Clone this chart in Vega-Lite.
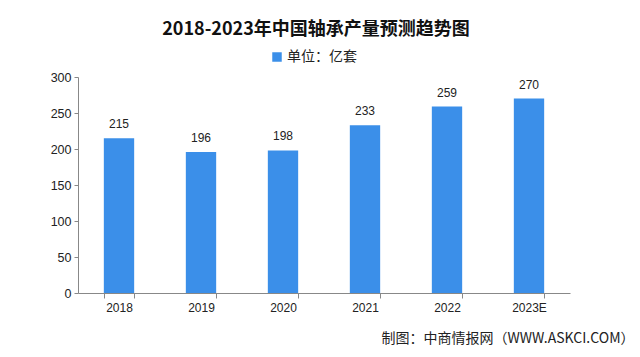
{
  "$schema": "https://vega.github.io/schema/vega-lite/v6.json",
  "autosize": {"type": "none"},
  "width": 492,
  "height": 216,
  "padding": {"left": 78, "top": 77, "right": 70, "bottom": 64},
  "background": "white",
  "title": {
    "text": "2018-2023年中国轴承产量预测趋势图",
    "font": "Noto Sans CJK SC",
    "fontSize": 18,
    "fontWeight": "bold",
    "color": "#111111",
    "anchor": "middle",
    "dx": -8,
    "offset": 11
  },
  "data": {
    "values": [
      {"year": "2018", "value": 215, "unit": "单位：亿套"},
      {"year": "2019", "value": 196, "unit": "单位：亿套"},
      {"year": "2020", "value": 198, "unit": "单位：亿套"},
      {"year": "2021", "value": 233, "unit": "单位：亿套"},
      {"year": "2022", "value": 259, "unit": "单位：亿套"},
      {"year": "2023E", "value": 270, "unit": "单位：亿套"}
    ]
  },
  "encoding": {
    "x": {
      "field": "year",
      "type": "nominal",
      "sort": null,
      "scale": {"paddingInner": 0.63, "paddingOuter": 0.315},
      "axis": {
        "title": "制图：中商情报网（WWW.ASKCI.COM）",
        "titleFont": "Noto Sans CJK SC",
        "titleFontSize": 14,
        "titleFontWeight": "normal",
        "titleColor": "#222222",
        "titleAnchor": "end",
        "titleAlign": "right",
        "titleBaseline": "middle",
        "titleX": 556,
        "titleY": 45,
        "labelAngle": 0,
        "labelFont": "Liberation Sans",
        "labelFontSize": 12,
        "labelColor": "#222222",
        "labelPadding": 4,
        "tickBand": "extent",
        "tickSize": 5,
        "tickColor": "#888888",
        "domainColor": "#888888"
      }
    },
    "y": {
      "field": "value",
      "type": "quantitative",
      "scale": {"domain": [0, 300]},
      "axis": {
        "title": null,
        "values": [0, 50, 100, 150, 200, 250, 300],
        "grid": false,
        "labelFont": "Liberation Sans",
        "labelFontSize": 12.5,
        "labelColor": "#222222",
        "labelPadding": 3,
        "tickSize": 4,
        "tickColor": "#888888",
        "domainColor": "#888888"
      }
    }
  },
  "layer": [
    {
      "mark": {"type": "bar"},
      "encoding": {
        "color": {
          "field": "unit",
          "type": "nominal",
          "scale": {"range": ["#3b8fe9"]},
          "legend": {
            "title": null,
            "orient": "none",
            "legendX": 192,
            "legendY": -27,
            "symbolType": "square",
            "symbolSize": 90,
            "labelFont": "Noto Sans CJK SC",
            "labelFontSize": 14,
            "labelColor": "#222222",
            "labelOffset": 3
          }
        }
      }
    },
    {
      "mark": {"type": "text", "dy": -14, "font": "Liberation Sans", "fontSize": 12, "color": "#222222"},
      "encoding": {"text": {"field": "value", "type": "quantitative"}}
    }
  ],
  "config": {"view": {"stroke": null}}
}
